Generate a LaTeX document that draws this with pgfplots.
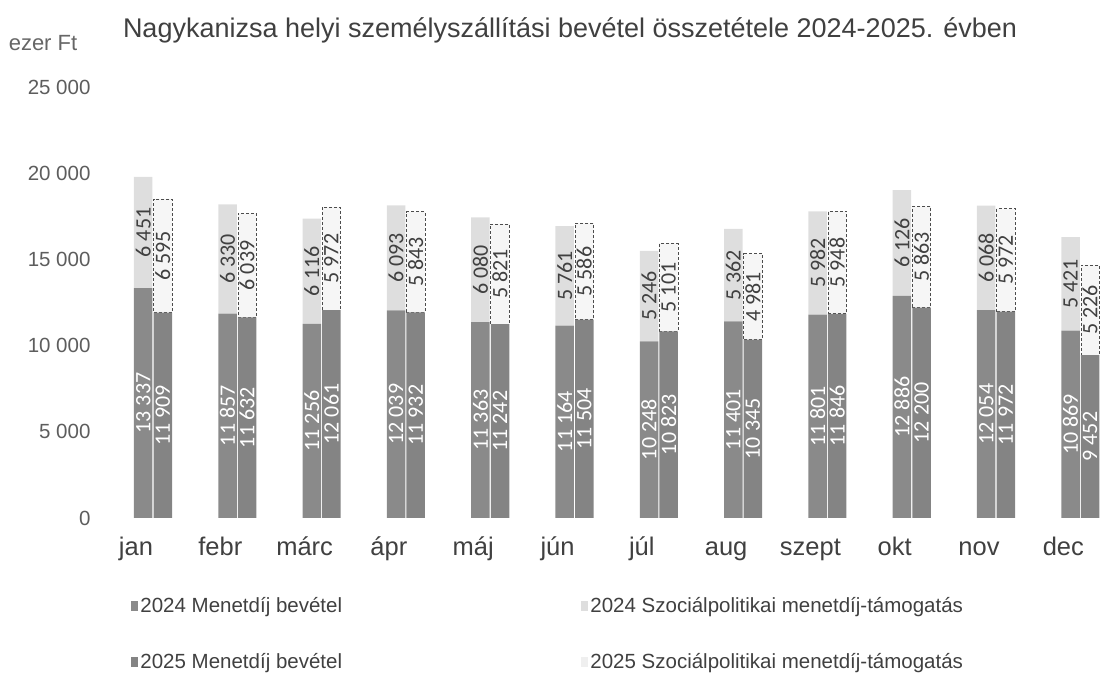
\documentclass[border=0pt]{standalone}
\usepackage{pgfplots}
\pgfplotsset{compat=1.18}
\usepackage{pgfplotstable}
\usepackage{fontspec}
\setmainfont{Liberation Sans}
\newfontfamily\labelfont{Carlito}
\definecolor{darkbar}{HTML}{8A8A8A}
\definecolor{darkbarb}{HTML}{848484}
\definecolor{light24}{HTML}{DEDEDE}
\definecolor{light25}{HTML}{F6F6F6}
\definecolor{txt}{HTML}{404040}
\pgfplotstableread{
x a24 b24 a25 b25
0 13337 6451 11909 6595
1 11857 6330 11632 6039
2 11256 6116 12061 5972
3 12039 6093 11932 5843
4 11363 6080 11242 5821
5 11164 5761 11504 5586
6 10248 5246 10823 5101
7 11401 5362 10345 4981
8 11801 5982 11846 5948
9 12886 6126 12200 5863
10 12054 6068 11972 5972
11 10869 5421 9452 5226
}\data
\pgfplotsset{sqlegend/.style={legend image code/.code={\fill[##1,draw=none] (0pt,-5pt) rectangle (7pt,5pt);}},
  base/.style={at={(94pt,159pt)}, anchor=south west, scale only axis,
  width=1007pt, height=431pt,
  xmin=-0.7, xmax=11.245, ymin=0, ymax=25000}}
\begin{document}
\begin{tikzpicture}
\path[use as bounding box] (0pt,0pt) rectangle (1101pt,677pt);
\node[font=\fontsize{27}{30}\selectfont, text=txt] at (570pt,647pt) {Nagykanizsa helyi személyszállítási bevétel összetétele 2024-2025. évben};
\node[font=\fontsize{22}{24}\selectfont, text=txt!80] at (43pt,634pt) {ezer Ft};
\begin{axis}[base,
  ybar stacked, bar width=18.5pt,
  axis line style={draw=none}, tick style={draw=none},
  xtick={0,...,11},
  xticklabels={jan,febr,márc,ápr,máj,jún,júl,aug,szept,okt,nov,dec},
  xticklabel style={font=\fontsize{25.5}{28}\selectfont, text=txt, text height=19pt, text depth=6pt, anchor=north, xshift=-17pt, yshift=-15pt},
  ytick={0,5000,10000,15000,20000,25000},
  yticklabel={\fontsize{20.5}{24}\selectfont\pgfmathprintnumber[fixed, 1000 sep={\ }, assume math mode=true]{\tick}},
  yticklabel style={text=txt!85},
  scaled y ticks=false,
  legend columns=2,
  legend cell align=left,
  legend style={at={(0.034,-0.175)}, anchor=north west, draw=none, fill=none,
    font=\fontsize{20.5}{24}\selectfont, text=txt, row sep=35pt},
]
\addplot[fill=darkbar, draw=none, bar shift=-9.8pt, sqlegend] table[x=x, y=a24]{\data};
\addlegendentry{\makebox[439pt][l]{2024 Menetdíj bevétel}}
\addplot[fill=light24, draw=none, bar shift=-9.8pt, sqlegend] table[x=x, y=b24]{\data};
\addlegendentry{2024 Szociálpolitikai menetdíj-támogatás}
\addlegendimage{fill=darkbarb, draw=none, sqlegend}
\addlegendentry{\makebox[439pt][l]{2025 Menetdíj bevétel}}
\addlegendimage{fill=light25!70!light24, draw=none, sqlegend}
\addlegendentry{2025 Szociálpolitikai menetdíj-támogatás}
\end{axis}
\begin{axis}[base, hide axis, ybar stacked, bar width=18.5pt]
\addplot[fill=darkbarb, draw=none, bar shift=9.8pt] table[x=x, y=a25]{\data};
\addplot[fill=light25, draw=black!70, densely dashed, line width=0.6pt, bar shift=9.8pt] table[x=x, y=b25]{\data};
\end{axis}
\begin{axis}[base, hide axis,
  point meta=explicit, nodes near coords,
  /pgf/number format/fixed, /pgf/number format/1000 sep={\ },
  /pgf/number format/assume math mode=true,
  every node near coord/.append style={rotate=90, anchor=center, inner sep=0pt,
    font=\labelfont\fontsize{22}{22}\selectfont},
]
\addplot[only marks, mark=none, nodes near coords style={text=white}] table[x expr=\thisrow{x}-0.116, y expr=\thisrow{a24}/2, meta=a24]{\data};
\addplot[only marks, mark=none, nodes near coords style={text=txt}] table[x expr=\thisrow{x}-0.116, y expr=\thisrow{a24}+\thisrow{b24}/2, meta=b24]{\data};
\addplot[only marks, mark=none, nodes near coords style={text=white}] table[x expr=\thisrow{x}+0.116, y expr=\thisrow{a25}/2, meta=a25]{\data};
\addplot[only marks, mark=none, nodes near coords style={text=txt}] table[x expr=\thisrow{x}+0.116, y expr=\thisrow{a25}+\thisrow{b25}/2, meta=b25]{\data};
\end{axis}
\end{tikzpicture}
\end{document}
